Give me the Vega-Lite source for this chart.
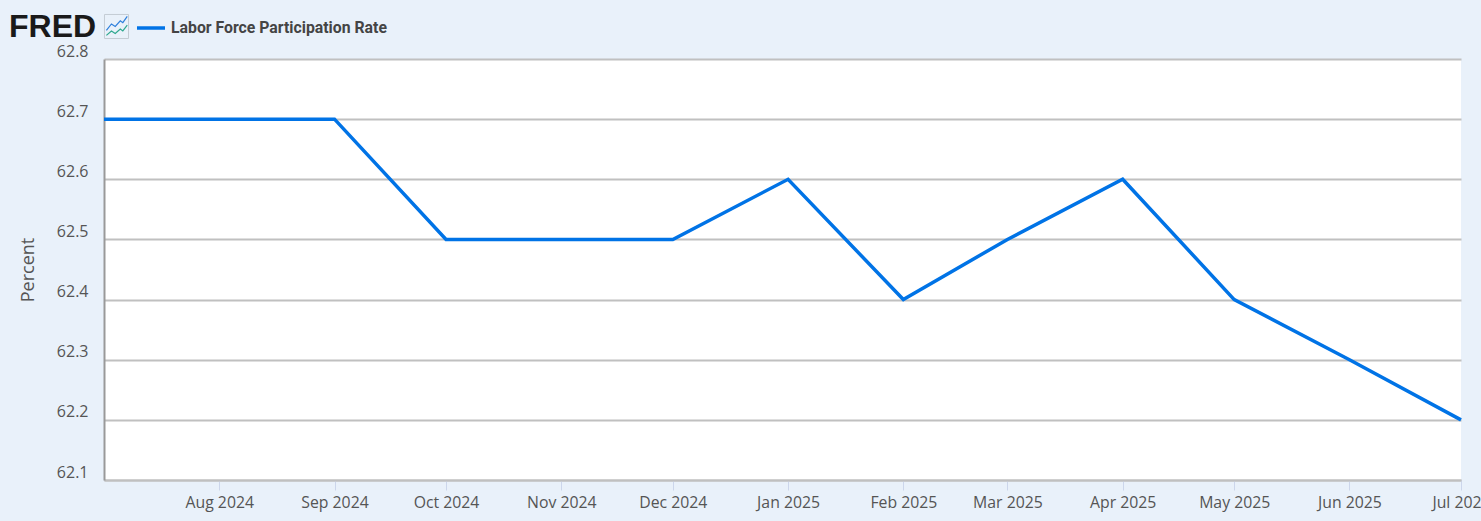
{"$schema":"https://vega.github.io/schema/vega-lite/v6.json","width":1357,"height":421,"autosize":"none","padding":{"left":104,"top":59,"right":20,"bottom":41},"background":"#e9f1fa","view":{"fill":"#ffffff","stroke":null},"title":{"text":"FRED","anchor":"start","frame":"group","dx":-95,"offset":-32,"font":"Liberation Sans","fontSize":32,"fontWeight":"bold","color":"#1a1a1a"},"resolve":{"scale":{"shape":"independent"},"legend":{"shape":"independent"}},"layer":[{"data":{"values":[{"date":"2024-07-01T00:00:00","series":"Labor Force Participation Rate","value":62.7},{"date":"2024-08-01T00:00:00","series":"Labor Force Participation Rate","value":62.7},{"date":"2024-09-01T00:00:00","series":"Labor Force Participation Rate","value":62.7},{"date":"2024-10-01T00:00:00","series":"Labor Force Participation Rate","value":62.5},{"date":"2024-11-01T00:00:00","series":"Labor Force Participation Rate","value":62.5},{"date":"2024-12-01T00:00:00","series":"Labor Force Participation Rate","value":62.5},{"date":"2025-01-01T00:00:00","series":"Labor Force Participation Rate","value":62.6},{"date":"2025-02-01T00:00:00","series":"Labor Force Participation Rate","value":62.4},{"date":"2025-03-01T00:00:00","series":"Labor Force Participation Rate","value":62.5},{"date":"2025-04-01T00:00:00","series":"Labor Force Participation Rate","value":62.6},{"date":"2025-05-01T00:00:00","series":"Labor Force Participation Rate","value":62.4},{"date":"2025-06-01T00:00:00","series":"Labor Force Participation Rate","value":62.3},{"date":"2025-07-01T00:00:00","series":"Labor Force Participation Rate","value":62.2}]},"mark":{"type":"line","strokeWidth":3.5,"clip":false},"encoding":{"x":{"field":"date","type":"temporal","scale":{"domain":["2024-07-01T00:00:00","2025-07-01T00:00:00"],"nice":false},"axis":{"title":null,"grid":false,"values":["2024-08-01T00:00:00","2024-09-01T00:00:00","2024-10-01T00:00:00","2024-11-01T00:00:00","2024-12-01T00:00:00","2025-01-01T00:00:00","2025-02-01T00:00:00","2025-03-01T00:00:00","2025-04-01T00:00:00","2025-05-01T00:00:00","2025-06-01T00:00:00","2025-07-01T00:00:00"],"format":"%b %Y","labelFont":"Open Sans","labelFontSize":15.8,"labelColor":"#555555","labelPadding":5,"labelOverlap":false,"labelBound":false,"labelFlush":false,"tickSize":10,"tickColor":"#ccd6eb","tickWidth":1,"domainColor":"#c0c0c0","domainWidth":2,"zindex":0}},"y":{"field":"value","type":"quantitative","scale":{"domain":[62.1,62.8],"nice":false,"zero":false},"axis":{"title":"Percent","titleFont":"Open Sans","titleFontSize":18,"titleFontWeight":"normal","titleColor":"#555555","titlePadding":19,"values":[62.1,62.2,62.3,62.4,62.5,62.6,62.7,62.8],"format":".1f","labelFont":"Open Sans","labelFontSize":16,"labelColor":"#555555","labelPadding":16,"labelOffset":-8,"labelBound":false,"ticks":false,"tickSize":0,"grid":true,"gridColor":"#c0c0c0","gridWidth":2,"domainColor":"#999999","domainWidth":2}},"color":{"field":"series","type":"nominal","scale":{"range":["#0073e6"]},"legend":{"orient":"none","legendX":31,"legendY":-47,"title":null,"symbolType":"stroke","symbolStrokeWidth":3.5,"symbolSize":784,"labelFont":"Roboto","labelFontSize":15.8,"labelFontWeight":"bold","labelColor":"#444444","labelLimit":400,"labelOffset":4,"padding":0}}}},{"data":{"values":[{"icon":" "}]},"mark":{"type":"point","opacity":0,"filled":false},"encoding":{"shape":{"field":"icon","type":"nominal","scale":{"range":["M-0.95 -0.95H0.95V0.95H-0.95Z"]},"legend":{"orient":"none","legendX":-1,"legendY":-46,"title":null,"symbolSize":640,"symbolStrokeColor":"#c4ccd4","symbolFillColor":"#f4f7fb","symbolStrokeWidth":1,"symbolOpacity":1,"labelFontSize":1,"padding":0}}}},{"data":{"values":[{"icon2":" "}]},"mark":{"type":"point","opacity":0,"filled":false},"encoding":{"shape":{"field":"icon2","type":"nominal","scale":{"range":["M-0.8 0.3L-0.4 -0.2L-0.1 0L0.3 -0.45L0.5 -0.3L0.85 -0.8"]},"legend":{"orient":"none","legendX":-1,"legendY":-46,"title":null,"symbolSize":640,"symbolFillColor":"transparent","symbolStrokeColor":"#2e7fdc","symbolStrokeWidth":1.2,"symbolOpacity":1,"labelFontSize":1,"padding":0}}}},{"data":{"values":[{"icon3":" "}]},"mark":{"type":"point","opacity":0,"filled":false},"encoding":{"shape":{"field":"icon3","type":"nominal","scale":{"range":["M-0.8 0.7L-0.4 0.35L-0.1 0.55L0.3 0.2L0.5 0.35L0.85 -0.1"]},"legend":{"orient":"none","legendX":-1,"legendY":-46,"title":null,"symbolSize":640,"symbolFillColor":"transparent","symbolStrokeColor":"#2fa88f","symbolStrokeWidth":1.2,"symbolOpacity":1,"labelFontSize":1,"padding":0}}}}]}
